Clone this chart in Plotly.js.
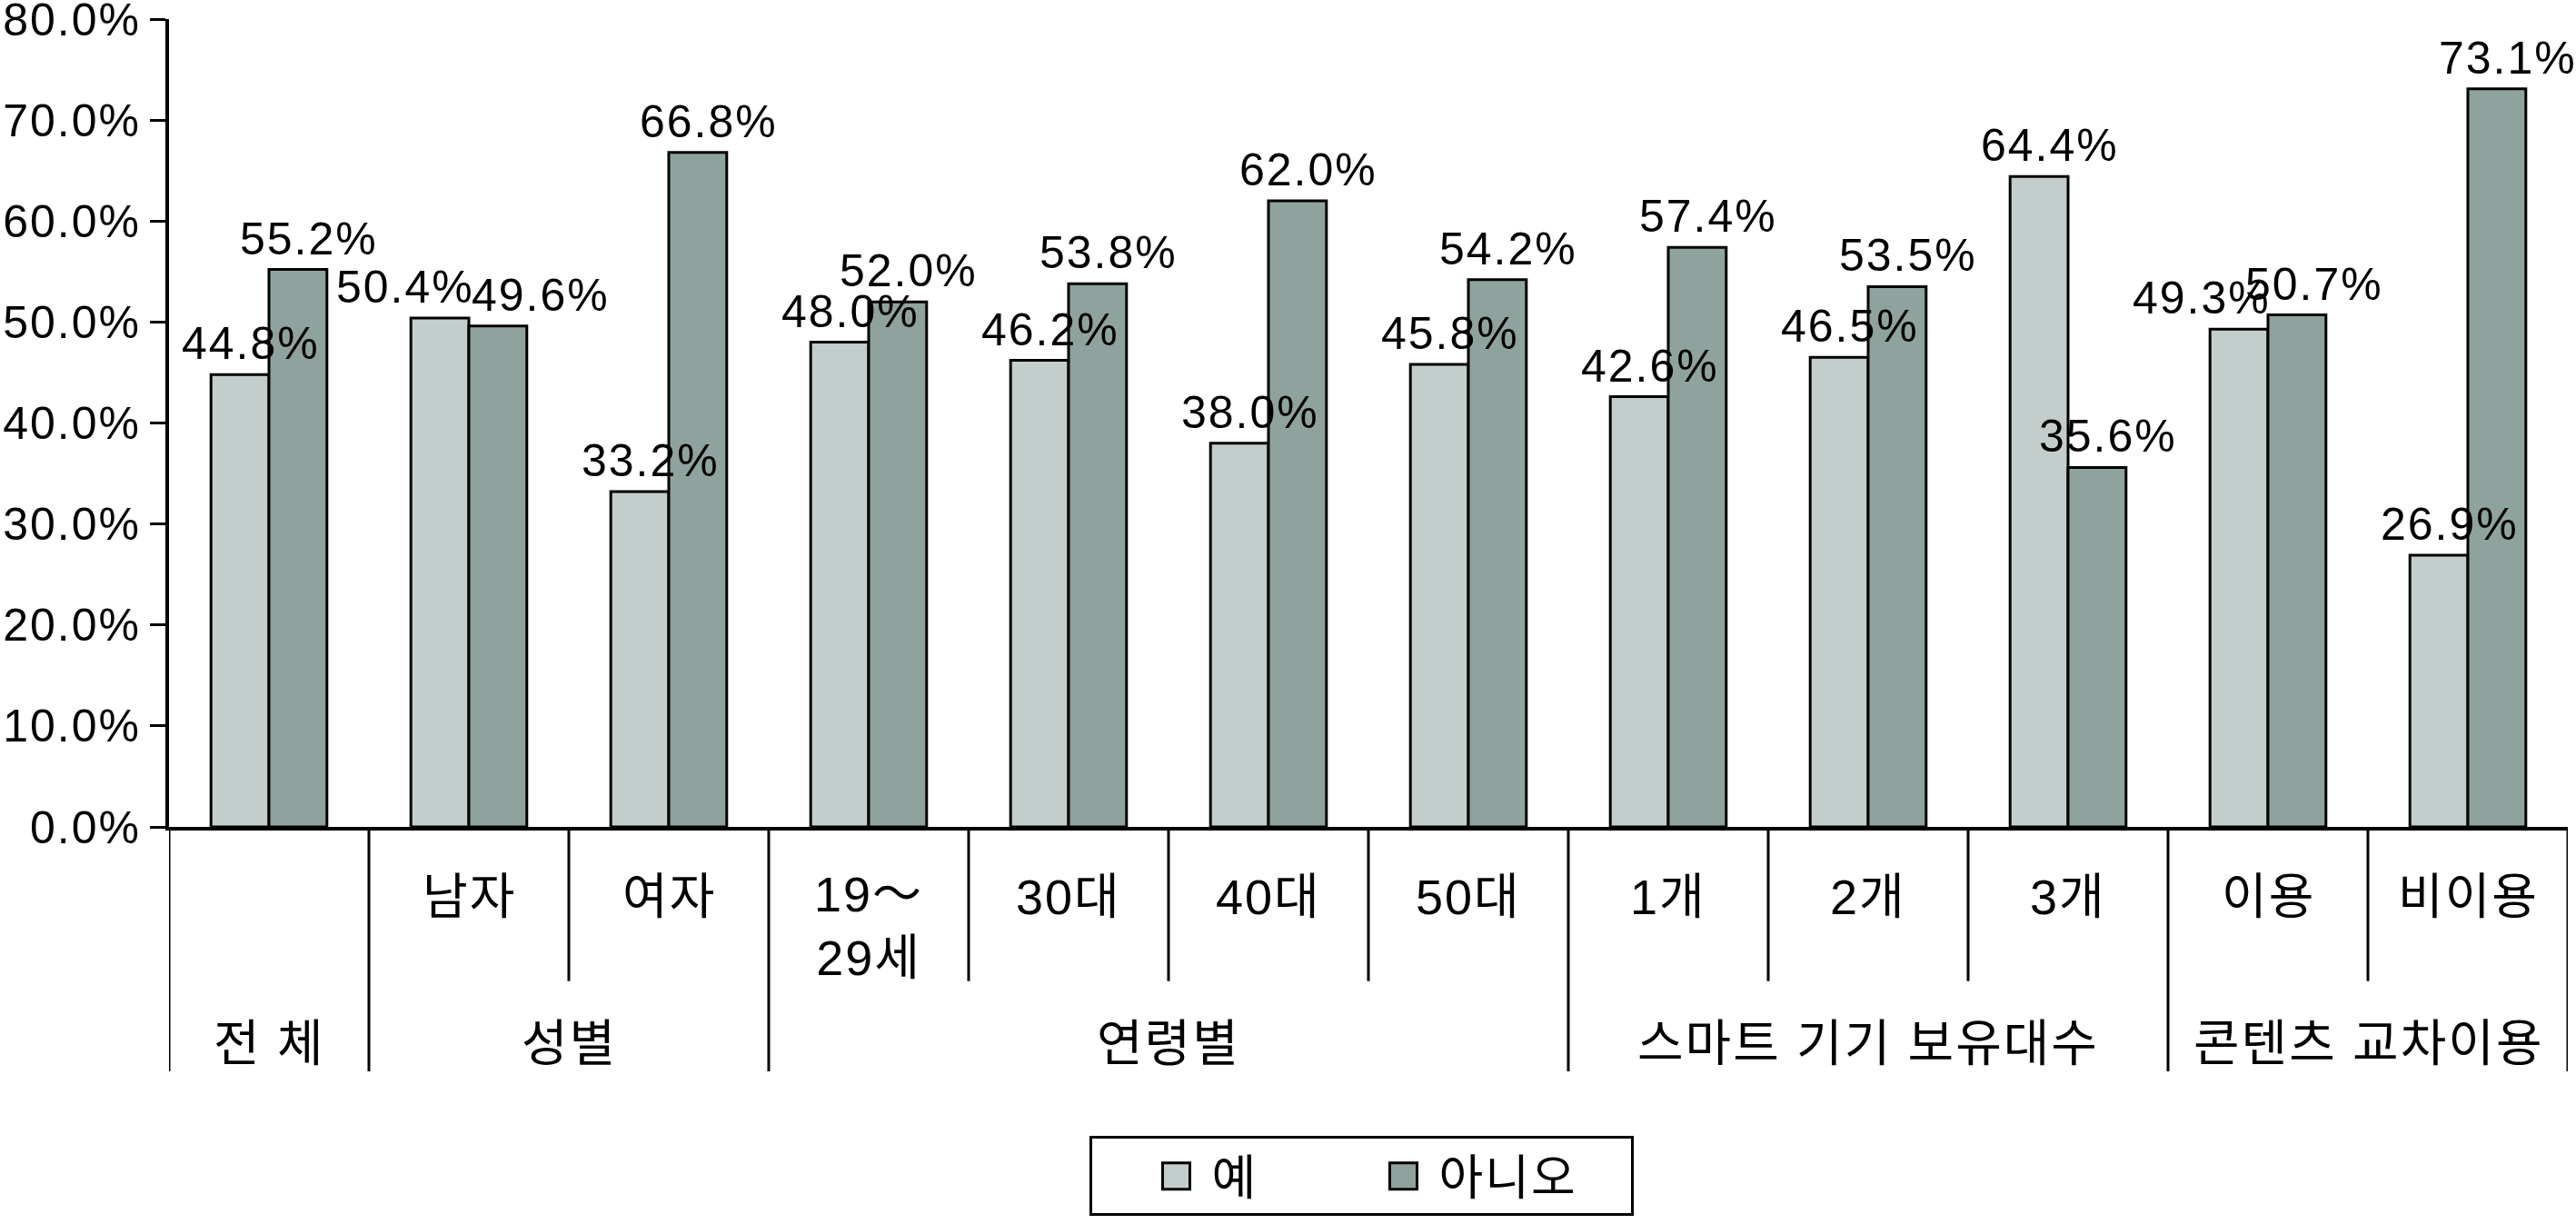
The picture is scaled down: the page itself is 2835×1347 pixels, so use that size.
<!DOCTYPE html>
<html>
<head>
<meta charset="utf-8">
<script src="https://cdn.plot.ly/plotly-3.0.1.min.js"></script>
<style>
html, body { margin: 0; padding: 0; background: #ffffff; }
#chart { width: 2835px; height: 1347px; }
#chart svg text { letter-spacing: 2px; }
</style>
</head>
<body>
<div id="chart"></div>
<script>
// ---- data ----
const categories = ['전체', '남자', '여자', '19~29세', '30대', '40대', '50대', '1개', '2개', '3개', '이용', '비이용'];
const subLabels = ['', '남자', '여자', '19～<br>29세', '30대', '40대', '50대', '1개', '2개', '3개', '이용', '비이용'];
const groupLabels = ['전 체', '성별', '연령별', '스마트 기기 보유대수', '콘텐츠 교차이용'];
const groupIndex = [0, 1, 1, 2, 2, 2, 2, 3, 3, 3, 4, 4];
const seriesNames = ['예', '아니오'];
const yesValues = [0.448, 0.504, 0.332, 0.480, 0.462, 0.380, 0.458, 0.426, 0.465, 0.644, 0.493, 0.269];
const noValues  = [0.552, 0.496, 0.668, 0.520, 0.538, 0.620, 0.542, 0.574, 0.535, 0.356, 0.507, 0.731];
const yTickVals = [0, 0.1, 0.2, 0.3, 0.4, 0.5, 0.6, 0.7, 0.8];

// ---- styles ----
const NUM_FONT = "'Liberation Sans', Arial, 'Noto Sans CJK KR', sans-serif";
const KR_FONT = "'Liberation Sans', 'Noto Sans CJK KR', sans-serif";
const colorYes = '#c3cecc';
const colorNo = '#8fa39e';
const BARGAP = 0.42;
const LABEL_XSHIFT = 12, LABEL_YSHIFT = 4;
// manual label nudges (px) as in the original layout: [yes, no]
const labelNudge = { '남자': [-38, 47], '이용': [-41, 19] };
const legendEntryWidths = [113, 206];

const W = 2835, H = 1347;
const M = { l: 186, r: 9, t: 21, b: 430 };
const plotH = H - M.t - M.b;
const pxToPaperY = (py) => (H - M.b - py) / plotH;

function barTrace(name, values, color, lw) {
  return {
    type: 'bar',
    name: name,
    x: categories,
    y: values,
    legendwidth: lw,
    marker: { color: color, line: { color: '#000000', width: 3 } },
    hoverinfo: 'skip'
  };
}

const data = [
  barTrace(seriesNames[0], yesValues, colorYes, legendEntryWidths[0]),
  barTrace(seriesNames[1], noValues, colorNo, legendEntryWidths[1])
];

// separators below the axis
const shapes = [];
const shortEnd = pxToPaperY(1088);
const longEnd = pxToPaperY(1188);
for (let k = 0; k <= categories.length; k++) {
  const isLong = (k === 0 || k === categories.length || groupIndex[k - 1] !== groupIndex[k]);
  shapes.push({
    type: 'line', xref: 'x', yref: 'paper',
    x0: k - 0.5, x1: k - 0.5, y0: 0, y1: isLong ? longEnd : shortEnd,
    line: { color: '#000000', width: 3 }
  });
}

const annotations = [];
// value labels (drawn above all bars)
const halfBar = (1 - BARGAP) / 4;
[yesValues, noValues].forEach((vals, s) => {
  vals.forEach((v, i) => {
    const nudge = labelNudge[categories[i]];
    annotations.push({
      xref: 'x', yref: 'y',
      x: i + (s === 0 ? -halfBar : halfBar), y: v,
      xanchor: 'center', yanchor: 'bottom',
      xshift: nudge ? nudge[s] : LABEL_XSHIFT, yshift: LABEL_YSHIFT,
      text: (v * 100).toFixed(1) + '%', showarrow: false,
      font: { family: NUM_FONT, size: 50, color: '#000000' }
    });
  });
});
// category labels
const subLineCenter = 995, lineStep = 63;
subLabels.forEach((lab, i) => {
  if (!lab) return;
  const nLines = lab.split('<br>').length;
  annotations.push({
    xref: 'x', yref: 'paper', x: i,
    y: pxToPaperY(subLineCenter + (nLines - 1) * lineStep / 2),
    xanchor: 'center', yanchor: 'middle',
    text: lab, showarrow: false,
    font: { family: KR_FONT, size: 54, color: '#000000' }
  });
});
groupLabels.forEach((lab, g) => {
  const idx = groupIndex.map((v, i) => v === g ? i : -1).filter(i => i >= 0);
  const xc = (idx[0] + idx[idx.length - 1]) / 2;
  annotations.push({
    xref: 'x', yref: 'paper', x: xc, y: pxToPaperY(1157),
    xanchor: 'center', yanchor: 'middle',
    text: lab, showarrow: false,
    font: { family: KR_FONT, size: 55, color: '#000000' }
  });
});

const layout = {
  width: W, height: H,
  margin: M,
  paper_bgcolor: '#ffffff',
  plot_bgcolor: '#ffffff',
  barmode: 'group',
  bargap: BARGAP,
  bargroupgap: 0,
  showlegend: true,
  legend: {
    orientation: 'h',
    x: (1498 - M.l) / (W - M.l - M.r), xanchor: 'center',
    y: pxToPaperY(1260), yanchor: 'top',
    bordercolor: '#000000', borderwidth: 3, bgcolor: '#ffffff',
    font: { family: KR_FONT, size: 53, color: '#000000' },
    itemwidth: 60,
    entrywidthmode: 'pixels',
    indentation: 62,
    traceorder: 'normal'
  },
  xaxis: {
    type: 'category',
    categoryorder: 'array',
    categoryarray: categories,
    range: [-0.5, categories.length - 0.5],
    showticklabels: false,
    ticks: '',
    showgrid: false,
    zeroline: false,
    showline: true, linecolor: '#000000', linewidth: 4,
    fixedrange: true
  },
  yaxis: {
    range: [0, 0.8],
    tickvals: yTickVals,
    tickformat: '.1%',
    ticks: 'outside', ticklen: 17, tickwidth: 3, tickcolor: '#000000',
    ticklabeloverflow: 'allow',
    showgrid: false, zeroline: false,
    showline: true, linecolor: '#000000', linewidth: 4,
    tickfont: { family: NUM_FONT, size: 50, color: '#000000' },
    fixedrange: true
  },
  shapes: shapes,
  annotations: annotations
};

function enlargeSwatches(gd) {
  gd.querySelectorAll('.legend .legendpoints path').forEach(function (p) {
    p.setAttribute('d', 'M11,14.5H-19V-14.5H11Z');
  });
}

Plotly.newPlot('chart', data, layout, { staticPlot: true, displayModeBar: false }).then(function (gd) {
  enlargeSwatches(gd);
  gd.on('plotly_afterplot', function () { enlargeSwatches(gd); });
  setTimeout(function () { enlargeSwatches(gd); }, 50);
  setTimeout(function () { enlargeSwatches(gd); }, 400);
});
</script>
</body>
</html>
